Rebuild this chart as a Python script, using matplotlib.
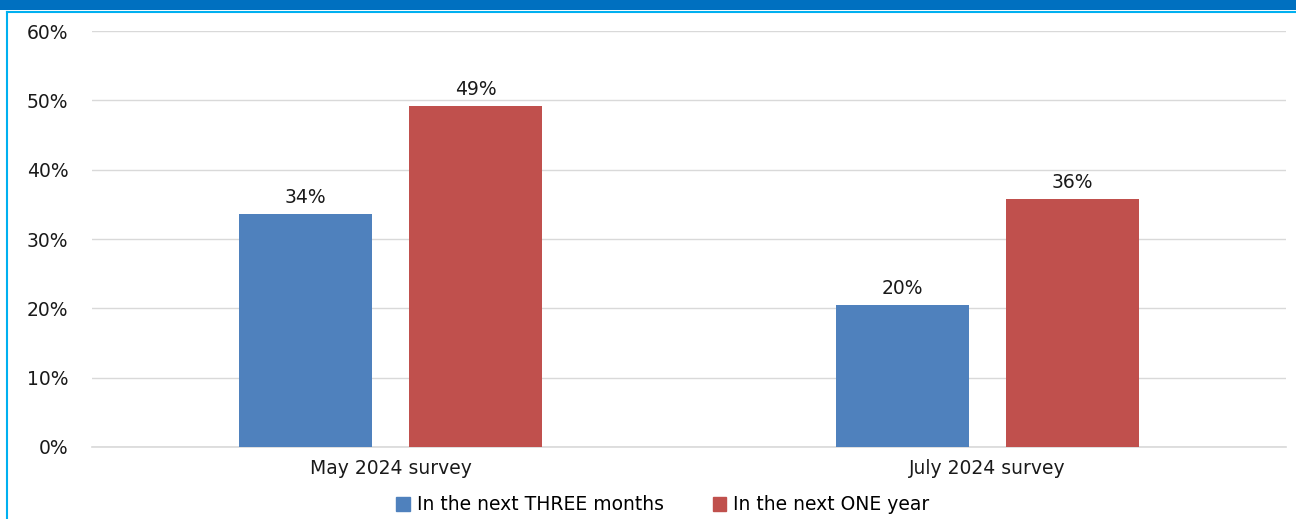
import matplotlib.pyplot as plt
import numpy as np
from matplotlib.patches import Rectangle
from matplotlib.lines import Line2D

surveys = ["May 2024 survey", "July 2024 survey"]
three_months = [33.6, 20.5]
one_year = [49.2, 35.8]
series_names = ["In the next THREE months", "In the next ONE year"]
colors = ["#4F81BD", "#C0504D"]

plt.rcParams['font.family'] = 'sans-serif'
plt.rcParams['font.sans-serif'] = ['DejaVu Sans']
fs = 13.5

fig = plt.figure(figsize=(12.96, 5.19), dpi=100)

# header band and frame
fig.add_artist(Rectangle((0, 1 - 10 / 519), 1, 10 / 519, transform=fig.transFigure,
                         color="#0070C0", lw=0))
fig.add_artist(Line2D([6.5 / 1296, 1], [1 - 12 / 519, 1 - 12 / 519],
                      transform=fig.transFigure, color="#00B0F0", lw=1.5))
fig.add_artist(Line2D([6.5 / 1296, 6.5 / 1296], [0, 1 - 12 / 519],
                      transform=fig.transFigure, color="#00B0F0", lw=1.5))

ax = fig.add_axes([92 / 1296, (519 - 447) / 519, 1194 / 1296, 416 / 519])

x = np.arange(len(surveys))
width = 0.223
offset = 0.1425
groups = [three_months, one_year]
for i, vals in enumerate(groups):
    pos = x + (-offset if i == 0 else offset)
    bars = ax.bar(pos, vals, width, color=colors[i], label=series_names[i], zorder=3)
    for b, v in zip(bars, vals):
        ax.text(b.get_x() + b.get_width() / 2, v + 1.0, f"{round(v)}%",
                ha="center", va="bottom", fontsize=fs, color="#1a1a1a")

ax.set_xlim(-0.5, 1.5)
ax.set_ylim(0, 60)
ax.set_yticks(range(0, 61, 10))
ax.set_yticklabels([f"{t}%" for t in range(0, 61, 10)], fontsize=fs, color="#1a1a1a")
ax.set_xticks(x)
ax.set_xticklabels(surveys, fontsize=fs, color="#1a1a1a")
ax.tick_params(axis="both", length=0)
ax.tick_params(axis="y", pad=17)
ax.tick_params(axis="x", pad=9)
ax.grid(axis="y", color="#D9D9D9", lw=1, zorder=0)
ax.axhline(0, color="#D9D9D9", lw=1.2, zorder=1, clip_on=False)
for s in ax.spines.values():
    s.set_visible(False)

handles = [Rectangle((0, 0), 1, 1, color=c) for c in colors]
fig.legend(handles, series_names, loc="center", bbox_to_anchor=(663 / 1296, 1 - 505 / 519),
           ncol=2, frameon=False, fontsize=fs, handlelength=0.7, handleheight=0.7,
           handletextpad=0.4, columnspacing=2.6)

fig.savefig("out.png", dpi=100)
